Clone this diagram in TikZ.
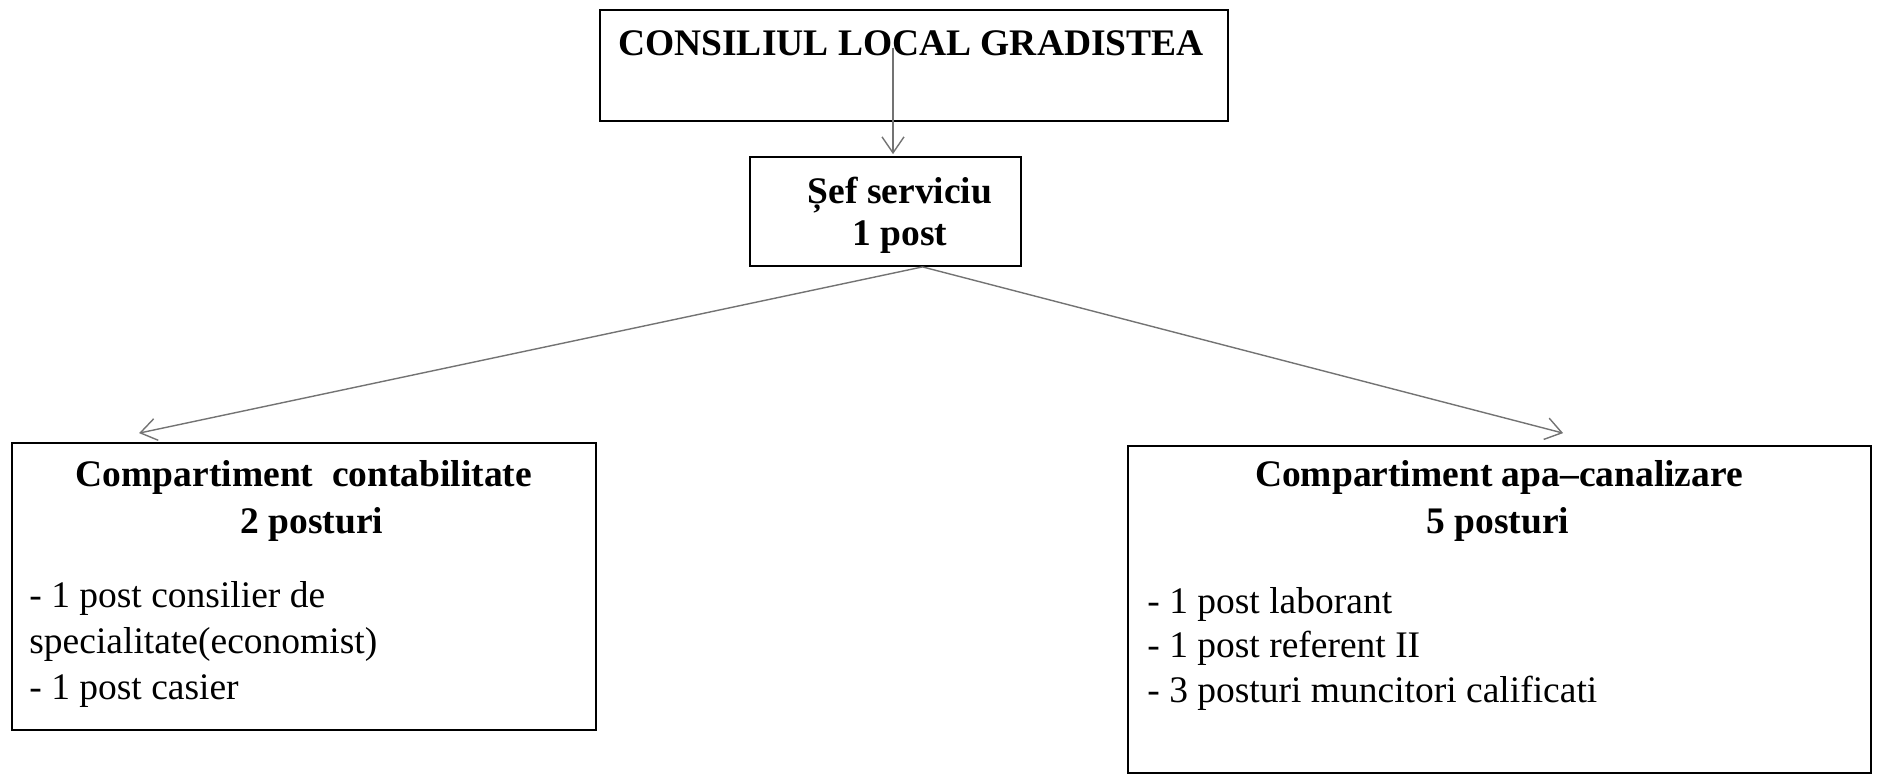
\documentclass[tikz,border=0pt]{standalone}
\usepackage{fontspec}
\setmainfont{Liberation Serif}
\usetikzlibrary{arrows.meta,calc}
\tikzset{
  box/.style={draw=black, line width=0.9pt, inner sep=0pt, rectangle},
  hdr/.style={font=\fontsize{18.75pt}{22pt}\selectfont\bfseries, anchor=base, inner sep=0pt},
  item/.style={font=\fontsize{18.75pt}{22pt}\selectfont, anchor=base west, inner sep=0pt},
  arr/.style={draw=black!55, line width=0.7pt, -{Straight Barb[length=8pt,width=11pt,line width=0.7pt]}}
}
\begin{document}
\begin{tikzpicture}[x=0.5pt,y=-0.5pt]
\useasboundingbox (0,0) rectangle (1879,778);
% boxes
\node[box, minimum width=314pt, minimum height=55.5pt] (top) at (914,65.5) {};
\node[box, minimum width=135.5pt, minimum height=54.5pt] (sef) at (885.5,211.5) {};
\node[box, minimum width=292pt, minimum height=143.5pt] (left) at (304,586.5) {};
\node[box, minimum width=371.5pt, minimum height=163.5pt] (right) at (1499.5,609.5) {};
% texts
\node[hdr] (t0) at (911,55) {CONSILIUL LOCAL GRADISTEA};
\node[hdr] (t1) at (900,203) {Șef serviciu};
\node[hdr] (t2) at (900,245) {1 post};
\node[hdr] (l1) at (304,486) {Compartiment\ \ contabilitate};
\node[hdr] (l2) at (312,533) {2 posturi};
\node[item] (l3) at (29,607) {- 1 post consilier de};
\node[item] (l4) at (29,653) {specialitate(economist)};
\node[item] (l5) at (29,699) {- 1 post casier};
\node[hdr] (r1) at (1499,486) {Compartiment apa–canalizare};
\node[hdr] (r2) at (1498,533) {5 posturi};
\node[item] (r3) at (1147,613) {- 1 post laborant};
\node[item] (r4) at (1147,657) {- 1 post referent II};
\node[item] (r5) at (1147,702) {- 3 posturi muncitori calificati};
% connectors
\coordinate (a0) at (893,48);
\coordinate (s0) at ($(sef.south)+(37,0)$);
\draw[arr] (a0) -- ($(a0 |- sef.north)+(0,-2)$);
\draw[arr] (s0) -- ($(left.north west)+(128,-9)$);
\draw[arr] (s0) -- ($(right.north west)+(436,-12)$);
\end{tikzpicture}
\end{document}
